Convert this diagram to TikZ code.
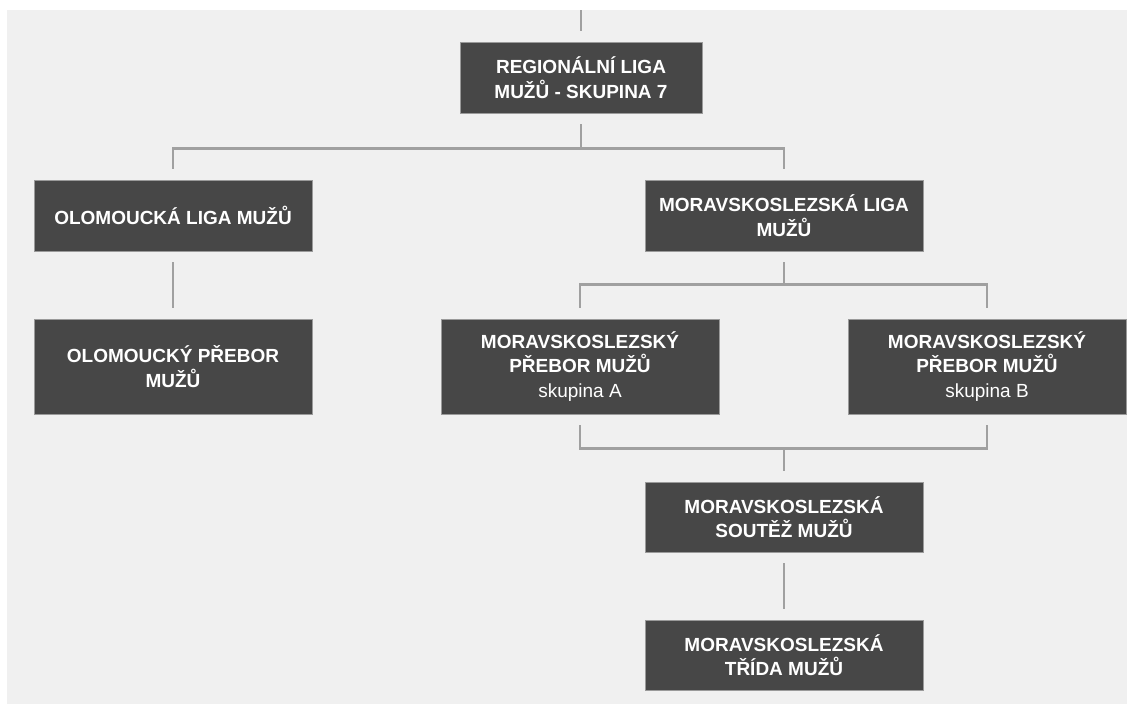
\documentclass[tikz,border=0pt]{standalone}
\usepackage{fontspec}
\setmainfont{Liberation Sans}
\definecolor{pagebg}{HTML}{F0F0F0}
\definecolor{boxfill}{HTML}{474747}
\definecolor{boxedge}{HTML}{9A9A9A}
\definecolor{linkgray}{HTML}{A0A0A0}
\begin{document}
\begin{tikzpicture}[x=1pt,y=-1pt,
  league/.style={fill=boxfill, draw=boxedge, line width=0.7pt, text=white,
    font=\fontsize{19}{24.5}\selectfont\bfseries, align=center,
    minimum width=278pt, minimum height=71pt, inner sep=0pt},
  conn/.style={draw=linkgray, line width=2.4pt, shorten <=11pt, shorten >=11pt}]
  % page and panel
  \fill[white] (0,0) rectangle (1127,704);
  \fill[pagebg] (7,10) rectangle (1127,704);
  \useasboundingbox (0,0) rectangle (1127,704);

  % league boxes
  \node[league, minimum width=242pt] (top) at (581,77.5) {REGIONÁLNÍ LIGA\\MUŽŮ - SKUPINA 7};
  \node[league] (ol)  at (173,215.5) {OLOMOUCKÁ LIGA MUŽŮ};
  \node[league] (msl) at (784,215.5) {MORAVSKOSLEZSKÁ LIGA\\MUŽŮ};
  \node[league, minimum height=95pt] (olp) at (173,366.5) {OLOMOUCKÝ PŘEBOR\\MUŽŮ};
  \node[league, minimum height=95pt] (pa) at (580,366.5) {MORAVSKOSLEZSKÝ\\PŘEBOR MUŽŮ\\{\mdseries skupina A}};
  \node[league, minimum height=95pt] (pb) at (987,366.5) {MORAVSKOSLEZSKÝ\\PŘEBOR MUŽŮ\\{\mdseries skupina B}};
  \node[league, minimum height=70pt] (sou) at (784,517) {MORAVSKOSLEZSKÁ\\SOUTĚŽ MUŽŮ};
  \node[league, minimum height=70pt] (tr)  at (784,655) {MORAVSKOSLEZSKÁ\\TŘÍDA MUŽŮ};

  % connectors
  \coordinate (upper) at (581,10);
  \draw[conn, shorten <=0pt] (upper) -- (top.north);
  \draw[conn] (top.south) -- ++(0,35) -| (ol.north);
  \draw[conn] (top.south) -- ++(0,35) -| (msl.north);
  \draw[conn] (ol.south) -- (olp.north);
  \draw[conn] (msl.south) -- ++(0,33) -| (pa.north);
  \draw[conn] (msl.south) -- ++(0,33) -| (pb.north);
  \draw[conn] (pa.south) -- ++(0,34) -| (sou.north);
  \draw[conn] (pb.south) -- ++(0,34) -| (sou.north);
  \draw[conn] (sou.south) -- (tr.north);
\end{tikzpicture}
\end{document}
